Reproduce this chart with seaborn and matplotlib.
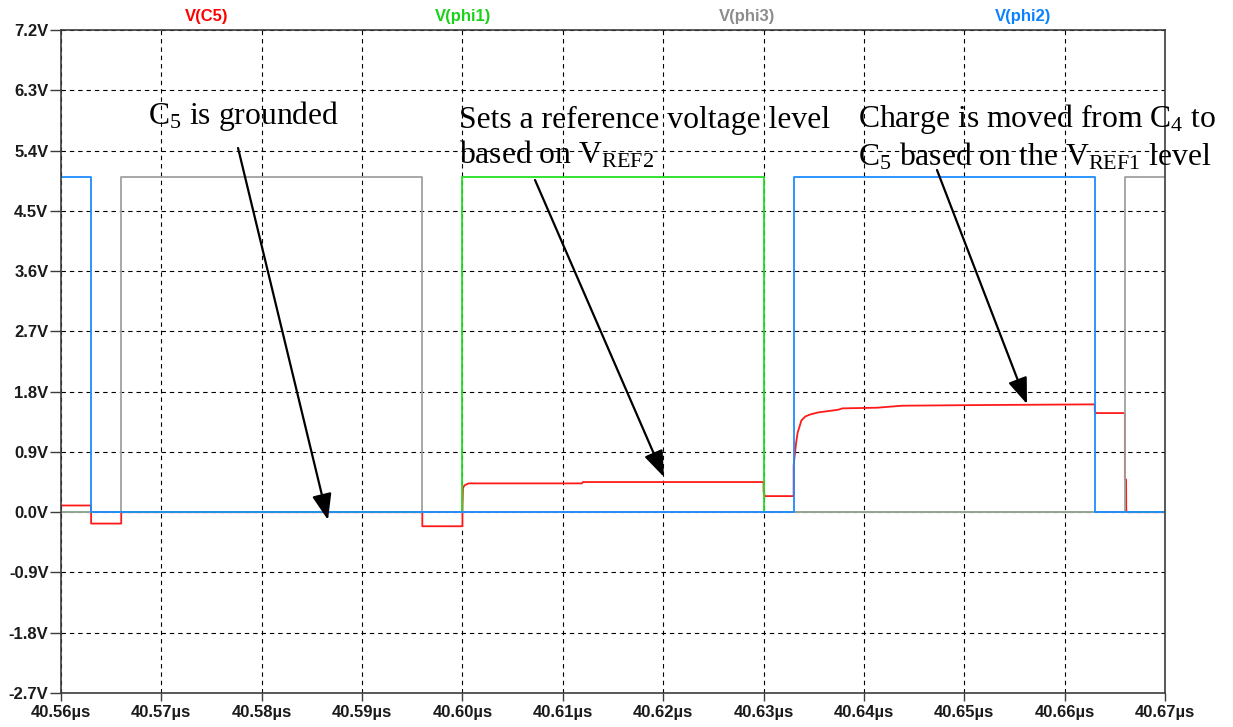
import matplotlib
matplotlib.use("Agg")
import matplotlib.pyplot as plt
from matplotlib import font_manager
import numpy as np
import pandas as pd
import seaborn as sns

# ---- clock phases: edge times (µs) and the level held from each edge (V) ----
phi2_t = [40.5600, 40.5630, 40.6330, 40.6630, 40.6700]
phi2_v = [5.0, 0.0, 5.0, 0.0, 0.0]
phi3_t = [40.5600, 40.5660, 40.5960, 40.6660, 40.6700]
phi3_v = [0.0, 5.0, 0.0, 5.0, 5.0]
phi1_t = [40.5600, 40.6000, 40.6300, 40.6700]
phi1_v = [0.0, 5.0, 0.0, 0.0]

# ---- capacitor C5 node voltage (µs, V) ----
c5_t = [40.5600, 40.5630, 40.5630, 40.5660, 40.5660, 40.5960, 40.5960, 40.6000,
        40.6000, 40.60005, 40.6002, 40.6006, 40.6119, 40.6120, 40.6300, 40.6300,
        40.63005, 40.6301, 40.6330, 40.6330, 40.63324, 40.6334, 40.63357, 40.63377,
        40.63417, 40.63467, 40.63546, 40.63646, 40.63745, 40.63785, 40.64133,
        40.64382, 40.65199, 40.6630, 40.6630, 40.6631, 40.6660, 40.6660, 40.66612,
        40.66614, 40.6662, 40.6700]
c5_v = [0.10, 0.10, -0.17, -0.17, 0.00, 0.00, -0.21, -0.21,
        0.06, 0.36, 0.40, 0.43, 0.43, 0.45, 0.45, 0.30,
        0.30, 0.24, 0.24, 0.70, 1.03, 1.19, 1.27, 1.37,
        1.43, 1.46, 1.49, 1.51, 1.53, 1.55, 1.56,
        1.59, 1.60, 1.61, 1.52, 1.48, 1.48, 0.49, 0.49,
        0.03, 0.00, 0.00]

y_ticks = [-2.7, -1.8, -0.9, 0.0, 0.9, 1.8, 2.7, 3.6, 4.5, 5.4, 6.3, 7.2]
x_ticks = [40.56, 40.57, 40.58, 40.59, 40.60, 40.61, 40.62, 40.63, 40.64,
           40.65, 40.66, 40.67]

trace_names = ["V(C5)", "V(phi1)", "V(phi3)", "V(phi2)"]
trace_colors = ["#FF1A1A", "#22E022", "#A0A0A0", "#1E8CFF"]
label_colors = ["#FF0000", "#19D219", "#8C8C8C", "#0A82FF"]

sns.set_theme(style="white")
names = {f.name for f in font_manager.fontManager.ttflist}
sans = "Liberation Sans" if "Liberation Sans" in names else "DejaVu Sans"
serif = "Liberation Serif" if "Liberation Serif" in names else "DejaVu Serif"
plt.rcParams["font.family"] = [sans, "DejaVu Sans"]
plt.rcParams["mathtext.fontset"] = "custom"
plt.rcParams["mathtext.rm"] = serif
plt.rcParams["mathtext.it"] = serif + ":italic"
plt.rcParams["mathtext.bf"] = serif + ":bold"

W, H = 1233, 727
fig = plt.figure(figsize=(W / 100, H / 100), dpi=100)
fig.patch.set_facecolor("white")
L, R, T, B = 61, 1165, 30, 693
ax = fig.add_axes([L / W, 1 - B / H, (R - L) / W, (B - T) / H])
ax.set_facecolor("white")

lw = 1.3
sns.lineplot(x=c5_t, y=c5_v, estimator=None, sort=False, ax=ax,
             color=trace_colors[0], lw=lw, zorder=3)
sns.lineplot(x=phi1_t, y=phi1_v, estimator=None, sort=False, ax=ax,
             color=trace_colors[1], lw=lw, drawstyle="steps-post", zorder=4)
sns.lineplot(x=phi3_t, y=phi3_v, estimator=None, sort=False, ax=ax,
             color=trace_colors[2], lw=lw, drawstyle="steps-post", zorder=5)
sns.lineplot(x=phi2_t, y=phi2_v, estimator=None, sort=False, ax=ax,
             color=trace_colors[3], lw=lw, drawstyle="steps-post", zorder=6)

ax.set_xlim(x_ticks[0], x_ticks[-1])
ax.set_ylim(y_ticks[0], y_ticks[-1])
ax.set_xticks(x_ticks)
ax.set_yticks(y_ticks)
ax.set_xticklabels([f"{v:.2f}\u00b5s" for v in x_ticks])
ax.set_yticklabels([f"{v:.1f}V" for v in y_ticks])
ax.set_xlabel("")
ax.set_ylabel("")

for s in ax.spines.values():
    s.set_visible(True)
    s.set_color("#3C3C3C")
    s.set_linewidth(1.2)
    s.set_zorder(8)

ax.tick_params(axis="y", direction="out", length=8, width=1.0, color="#3C3C3C",
               pad=1, labelsize=12, labelcolor="#1A1A1A", left=True)
ax.tick_params(axis="x", direction="out", length=6, width=1.0, color="#3C3C3C",
               pad=3, labelsize=12, labelcolor="#1A1A1A", bottom=True)
for lab in ax.get_xticklabels() + ax.get_yticklabels():
    lab.set_fontweight("bold")

ax.grid(True, color="black", lw=0.8, ls=(0, (4, 3.5)), zorder=1)

# trace names along the top edge
name_x = [0.132, 0.364, 0.621, 0.871]
for nm, col, xf in zip(trace_names, label_colors, name_x):
    ax.text(xf, 1.021, nm, transform=ax.transAxes, color=col, ha="center",
            va="center", fontsize=12, fontweight="bold")

# explanatory notes with arrows
note_kw = dict(fontsize=22.8, family=[serif, "DejaVu Serif"], color="black",
               ha="left", va="baseline", zorder=9)
ax.text(40.56870, 5.796, r"C$_5$ is grounded", **note_kw)
ax.text(40.59966, 5.737, "Sets a reference voltage level", **note_kw)
ax.text(40.59966, 5.214, r"based on V$_{\mathrm{REF2}}$", **note_kw)
ax.text(40.63941, 5.752, r"Charge is moved from C$_4$ to", **note_kw)
ax.text(40.63941, 5.184, r"C$_5$ based on the V$_{\mathrm{REF1}}$ level", **note_kw)

arrow_kw = dict(arrowstyle="-|>,head_length=0.8,head_width=0.3", color="black",
                lw=1.6, shrinkA=0, shrinkB=0, mutation_scale=20)
for tail, tip in [((40.57764, 5.438), (40.58660, -0.117)),
                  ((40.60723, 4.960), (40.62008, 0.525)),
                  ((40.64728, 5.110), (40.65625, 1.615))]:
    ax.annotate("", xy=tip, xytext=tail, arrowprops=arrow_kw, zorder=9)

fig.savefig("out.png", dpi=100, facecolor="white")
